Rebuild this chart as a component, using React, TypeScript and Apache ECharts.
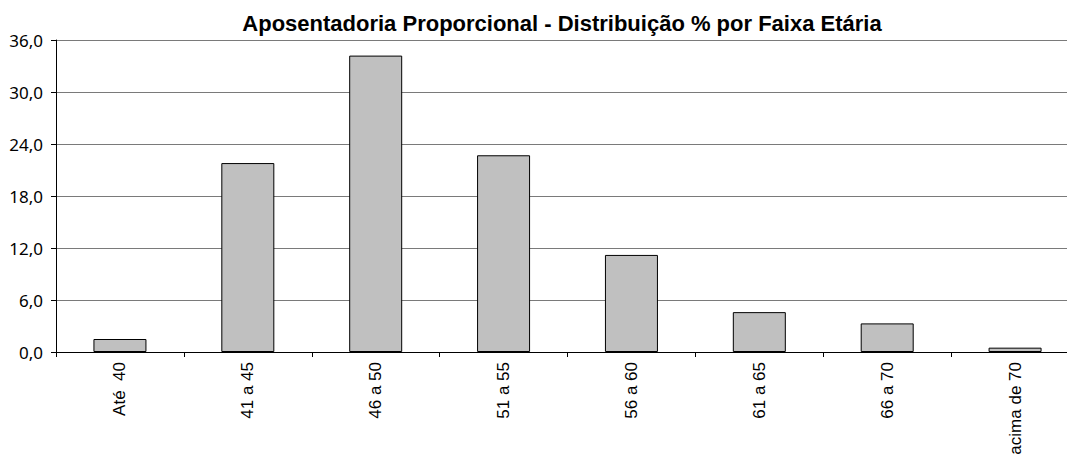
import React, { useEffect, useRef } from "react";
import * as echarts from "echarts";

const titleText = "Aposentadoria Proporcional - Distribuição % por Faixa Etária";
const categories = ["Até  40", "41 a 45", "46 a 50", "51 a 55", "56 a 60", "61 a 65", "66 a 70", "acima de 70"];
const values = [1.5, 21.8, 34.2, 22.7, 11.2, 4.6, 3.3, 0.5];
const yMin = 0;
const yMax = 36;
const yInterval = 6;

export default function App() {
  const ref = useRef<HTMLDivElement>(null);
  useEffect(() => {
    if (!ref.current) return;
    const chart = echarts.init(ref.current, undefined, { renderer: "svg" });
    chart.setOption({
      animation: false,
      backgroundColor: "#ffffff",
      title: {
        text: titleText,
        left: 562,
        top: 12,
        padding: 0,
        textAlign: "center",
        textStyle: {
          fontFamily: "Liberation Sans, Arial, sans-serif",
          fontWeight: "bold",
          fontSize: 22,
          color: "#000000",
        },
      },
      grid: {
        left: 56,
        top: 40,
        width: 1023,
        bottom: 106,
        containLabel: false,
        outerBoundsMode: "none",
      },
      xAxis: {
        type: "category",
        data: categories,
        axisLine: { lineStyle: { color: "#000000", width: 1 } },
        axisTick: { show: true, length: 5, lineStyle: { color: "#000000" } },
        axisLabel: {
          rotate: 90,
          margin: 10,
          interval: 0,
          hideOverlap: false,
          color: "#000000",
          fontFamily: "Liberation Sans, Arial, sans-serif",
          fontSize: 17,
        },
        splitLine: { show: false },
      },
      yAxis: {
        type: "value",
        min: yMin,
        max: yMax,
        interval: yInterval,
        axisLine: { show: true, lineStyle: { color: "#000000", width: 1 } },
        axisTick: { show: true, length: 5, lineStyle: { color: "#000000" } },
        axisLabel: {
          margin: 13,
          color: "#000000",
          fontFamily: "Noto Sans, DejaVu Sans, sans-serif",
          fontSize: 17,
          formatter: (v: number) => v.toFixed(1).replace(".", ","),
        },
        splitLine: { show: true, lineStyle: { color: "#7a7a7a", width: 1 } },
      },
      series: [
        {
          type: "bar",
          data: values,
          barWidth: 53,
          itemStyle: { color: "#c0c0c0", borderColor: "#000000", borderWidth: 1 },
        },
      ],
    });
    return () => chart.dispose();
  }, []);
  return (
    <div style={{ position: "fixed", left: 0, top: 0, width: 1067, height: 458, overflow: "hidden", background: "#fff" }}>
      <div ref={ref} style={{ width: 1080, height: 458 }} />
    </div>
  );
}
